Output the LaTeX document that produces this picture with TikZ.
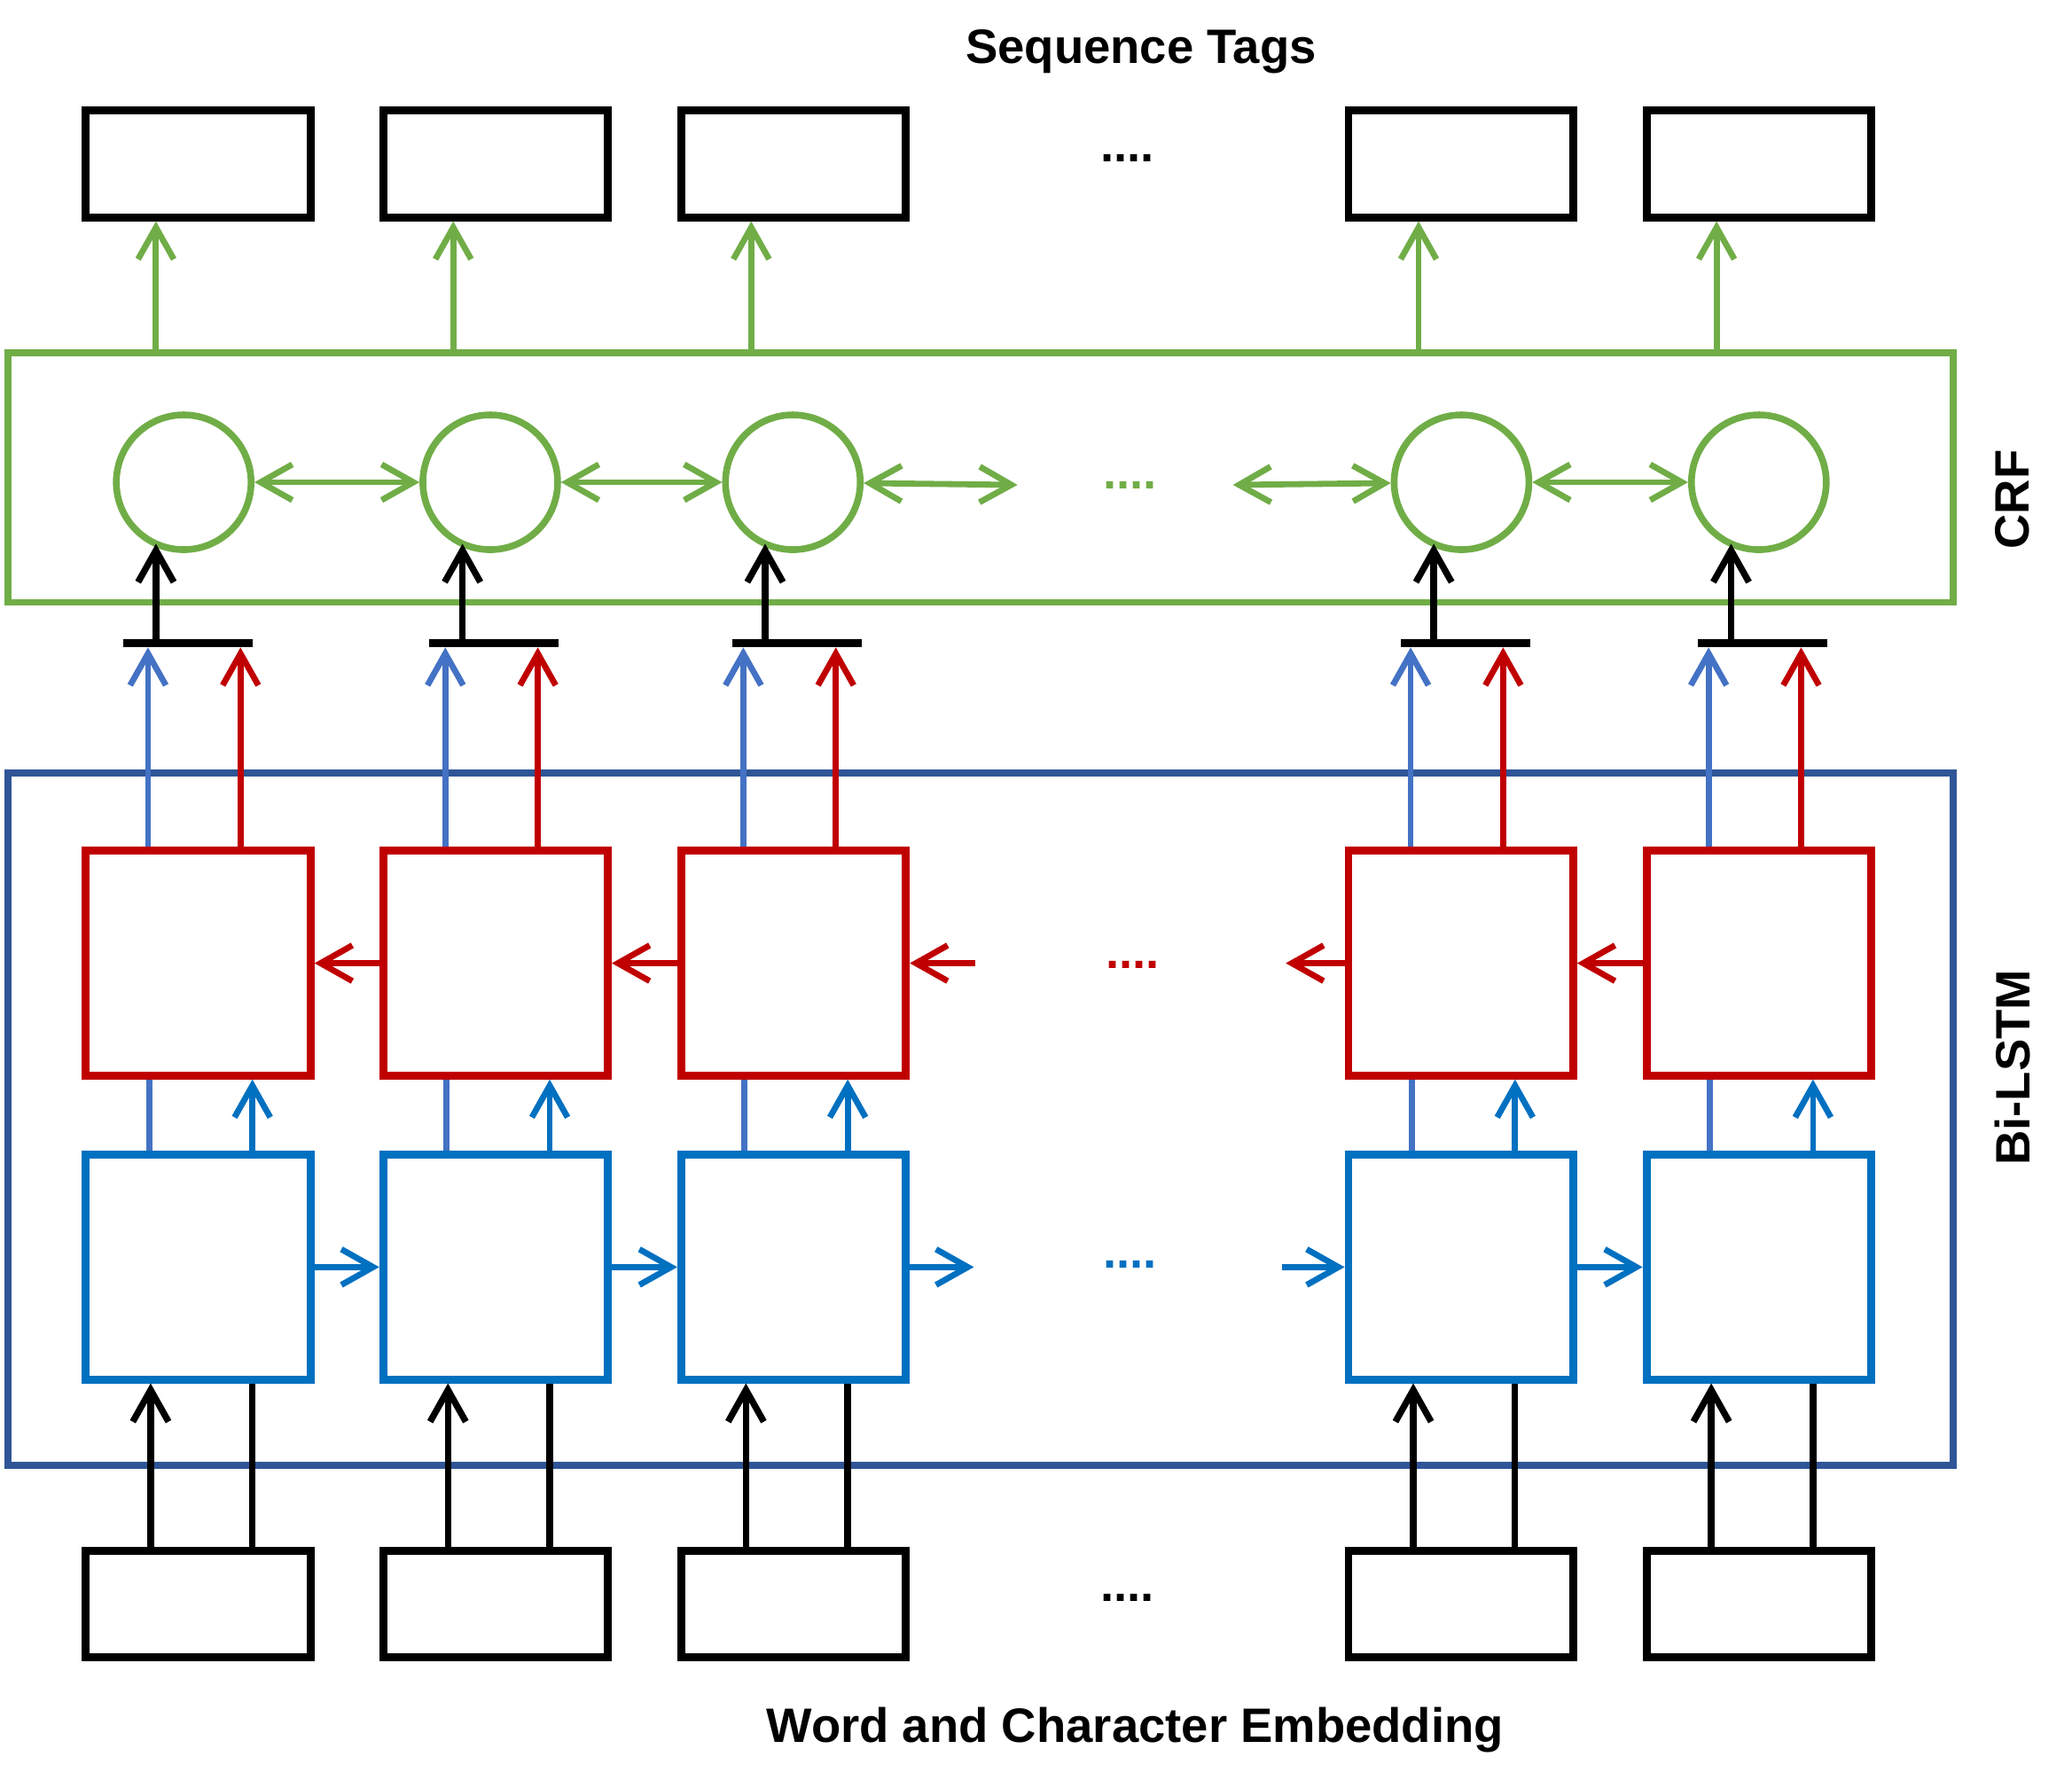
\documentclass[tikz,border=0pt]{standalone}
\usepackage{fontspec}
\setmainfont{Liberation Sans}
\usetikzlibrary{arrows.meta}

\definecolor{crfgreen}{HTML}{70AD47}
\definecolor{bwdred}{HTML}{C00000}
\definecolor{fwdblue}{HTML}{0070C0}
\definecolor{catblue}{HTML}{4472C4}
\definecolor{lstmframe}{HTML}{2F5597}

\begin{document}
\begin{tikzpicture}[
        >={Straight Barb[length=2.4mm,width=2.7mm]},
        box/.style={draw,line width=1.7pt,minimum width=1.70cm,inner sep=0pt},
        tagbox/.style={box,minimum height=0.81cm},
        bwdbox/.style={box,draw=bwdred,minimum height=1.70cm},
        fwdbox/.style={box,draw=fwdblue,minimum height=1.70cm},
        crfnode/.style={circle,draw=crfgreen,line width=1.45pt,minimum size=1.02cm,inner sep=0pt},
        framebox/.style={draw,line width=1.45pt,inner sep=0pt},
        catbar/.style={fill=black,minimum width=0.98cm,minimum height=0.06cm,inner sep=0pt,outer sep=0pt},
        lbl/.style={font=\fontsize{10.4}{12}\selectfont\bfseries,inner sep=0pt},
        conn/.style={line width=1.3pt}]
            \useasboundingbox (0,0) rectangle (15.68,-13.53);
            \node[framebox,draw=crfgreen,minimum width=14.72cm,minimum height=1.89cm] at (7.42,-3.615) (crf) {};
            \node[framebox,draw=lstmframe,minimum width=14.72cm,minimum height=5.24cm] at (7.42,-8.47) (lstm) {};
            \node[lbl,anchor=base] at (8.635,-0.48) (tags) {Sequence Tags};
            \node[lbl,anchor=base] at (8.59,-13.19) (embs) {Word and Character Embedding};
            \node[lbl,rotate=90] at (15.23,-3.78) (crflbl) {CRF};
            \node[lbl,rotate=90] at (15.23,-8.08) (lstmlbl) {Bi-LSTM};
            \node[lbl] at (8.53,-1.2) (tagdots) {....};
            \node[lbl,text=crfgreen] at (8.55,-3.67) (crfdots) {....};
            \node[lbl,text=bwdred] at (8.57,-7.30) (bwddots) {....};
            \node[lbl,text=fwdblue] at (8.55,-9.57) (fwddots) {....};
            \node[lbl] at (8.53,-12.09) (embdots) {....};
            \coordinate (crfr) at (7.70,-3.67);
            \coordinate (crfl) at (9.33,-3.67);
            \coordinate (bwdin) at (7.38,-7.29);
            \coordinate (bwdout) at (9.73,-7.29);
            \coordinate (fwdout) at (7.37,-9.59);
            \coordinate (fwdin) at (9.70,-9.59);
            \foreach \i/\x/\c in {1/1.50/1.39,2/3.75/3.71,3/6.005/6.00,4/11.055/11.06,5/13.31/13.31} {
                \node[tagbox] at (\x,-1.24) (tag\i) {};
                \node[crfnode] at (\c,-3.65) (crf\i) {};
                \node[catbar] at (\c+0.03,-4.87) (cat\i) {};
                \node[bwdbox] at (\x,-7.29) (bwd\i) {};
                \node[fwdbox] at (\x,-9.59) (fwd\i) {};
                \node[tagbox] at (\x,-12.14) (emb\i) {};
                \draw[conn,crfgreen,->] ([xshift=-3.2mm]tag\i.south |- crf.north) to ([xshift=-3.2mm]tag\i.south);
                \draw[conn,line width=1.4pt,->] ([xshift=-2.1mm]crf\i.south |- cat\i.north) to ([xshift=-2.1mm,yshift=0.7mm]crf\i.south);
                \draw[conn,catblue,->] ([xshift=-3.8mm]bwd\i.north) to ([xshift=-3.8mm]bwd\i.north |- cat\i.south);
                \draw[conn,bwdred,->] ([xshift=3.2mm]bwd\i.north) to ([xshift=3.2mm]bwd\i.north |- cat\i.south);
                \draw[conn,catblue] ([xshift=-3.7mm]fwd\i.north) to ([xshift=-3.7mm]fwd\i.north |- bwd\i.south);
                \draw[conn,fwdblue,->] ([xshift=4.1mm]fwd\i.north) to ([xshift=4.1mm]fwd\i.north |- bwd\i.south);
                \draw[conn,line width=1.4pt,->] ([xshift=-3.6mm]emb\i.north) to ([xshift=-3.6mm]emb\i.north |- fwd\i.south);
                \draw[conn,line width=1.4pt] ([xshift=4.1mm]emb\i.north) to ([xshift=4.1mm]emb\i.north |- fwd\i.south);
            }
            \draw[conn,crfgreen,<->] (crf1) to (crf2);
            \draw[conn,crfgreen,<->] (crf2) to (crf3);
            \draw[conn,crfgreen,<->] (crf3) to (crfr);
            \draw[conn,crfgreen,<->] (crfl) to (crf4);
            \draw[conn,crfgreen,<->] (crf4) to (crf5);
            \draw[conn,bwdred,->] (bwd2) to (bwd1);
            \draw[conn,bwdred,->] (bwd3) to (bwd2);
            \draw[conn,bwdred,->] (bwdin) to (bwd3);
            \draw[conn,bwdred,->] (bwd4) to (bwdout);
            \draw[conn,bwdred,->] (bwd5) to (bwd4);
            \draw[conn,fwdblue,->] (fwd1) to (fwd2);
            \draw[conn,fwdblue,->] (fwd2) to (fwd3);
            \draw[conn,fwdblue,->] (fwd3) to (fwdout);
            \draw[conn,fwdblue,->] (fwdin) to (fwd4);
            \draw[conn,fwdblue,->] (fwd4) to (fwd5);
        \end{tikzpicture}
\end{document}
